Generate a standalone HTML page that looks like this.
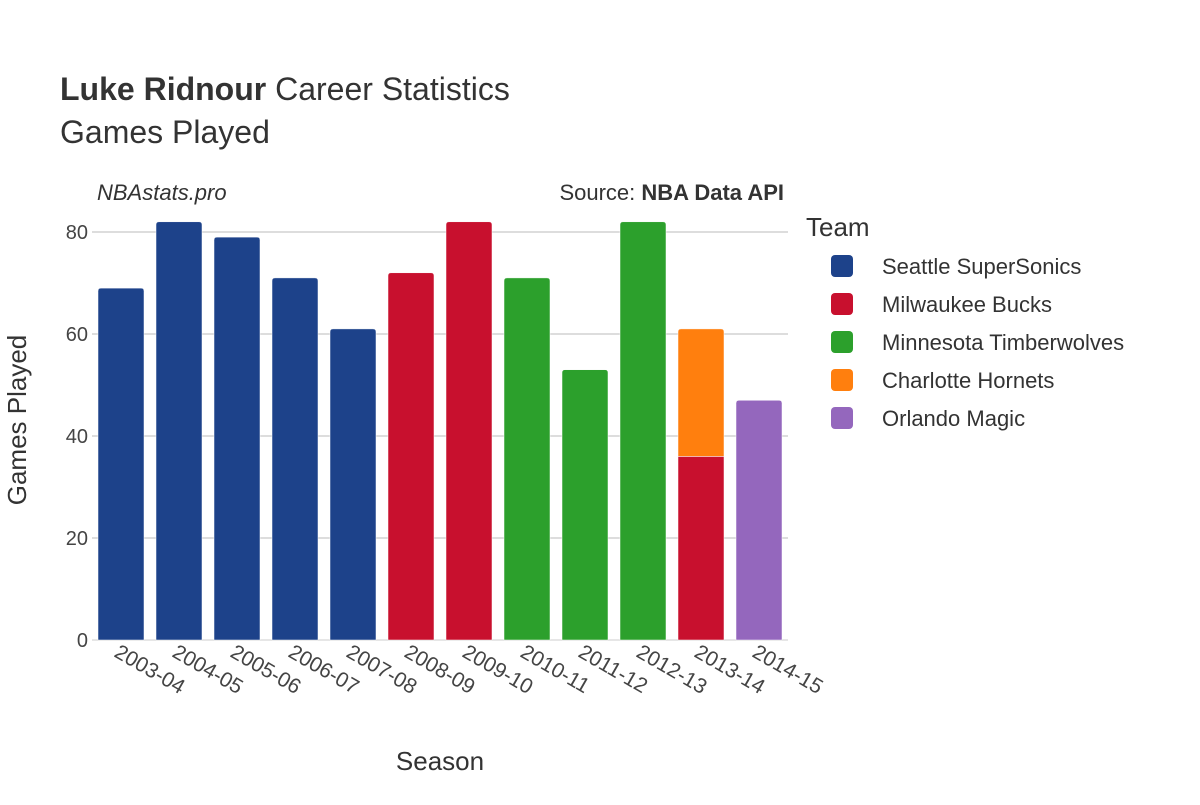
<!DOCTYPE html>
<html><head><meta charset="utf-8"><style>
body{margin:0;background:#fff;}
svg text{font-family:"Liberation Sans","DejaVu Sans",sans-serif;}
</style></head><body>
<svg width="1200" height="800" xmlns="http://www.w3.org/2000/svg" id="chart">
<rect width="1200" height="800" fill="#fff"/>
<text x="60" y="100" font-size="32" fill="#333"><tspan font-weight="bold">Luke Ridnour</tspan> Career Statistics</text>
<text x="60" y="143" font-size="32" fill="#333">Games Played</text>
<text x="97" y="200" font-size="22" fill="#333" font-style="italic">NBAstats.pro</text>
<text x="784" y="200" font-size="22" fill="#333" text-anchor="end">Source: <tspan font-weight="bold">NBA Data API</tspan></text>
<g id="grid"></g>
<g id="bars"></g>
<g id="yticks"></g>
<g id="xticks"></g>
<text x="440" y="770" font-size="26" fill="#333" text-anchor="middle">Season</text>
<text transform="translate(26,420) rotate(-90)" font-size="26" fill="#333" text-anchor="middle">Games Played</text>
<g id="legend">
<text x="806" y="236" font-size="26" fill="#333">Team</text>
</g>
</svg>
<script>
const seasons=["2003-04","2004-05","2005-06","2006-07","2007-08","2008-09","2009-10","2010-11","2011-12","2012-13","2013-14","2014-15"];
const teams=["Seattle SuperSonics","Milwaukee Bucks","Minnesota Timberwolves","Charlotte Hornets","Orlando Magic"];
const teamColors=["#1d428a","#c8102e","#2ca02c","#ff7f0e","#9467bd"];
const seattle=[69,82,79,71,61,0,0,0,0,0,0,0];
const milwaukee=[0,0,0,0,0,72,82,0,0,0,36,0];
const minnesota=[0,0,0,0,0,0,0,71,53,82,0,0];
const charlotte=[0,0,0,0,0,0,0,0,0,0,25,0];
const orlando=[0,0,0,0,0,0,0,0,0,0,0,47];
const series=[seattle,milwaukee,minnesota,charlotte,orlando];
const yTicks=[0,20,40,60,80];
const NS="http://www.w3.org/2000/svg";
const x0=92,x1=788,yBase=640,yTop=232,yMax=80;
const band=(x1-x0)/seasons.length;
const X=i=>x0+band*i+band/2;
const Y=v=>yBase-(v/yMax)*(yBase-yTop);
function mk(tag,attrs,parent){const e=document.createElementNS(NS,tag);for(const k in attrs)e.setAttribute(k,attrs[k]);parent.appendChild(e);return e;}
const grid=document.getElementById('grid'),yt=document.getElementById('yticks');
yTicks.forEach(t=>{
 const l=mk('line',{x1:x0,x2:x1,y1:Y(t),y2:Y(t),stroke:t===0?'#e6e6e6':'#bbb','stroke-width':t===0?2:1},grid);
 
 
 const tx=mk('text',{x:x0-4,y:Y(t)+7,'font-size':20,fill:'#444','text-anchor':'end'},yt);
 tx.textContent=t;
 
 
});
const bars=document.getElementById('bars');
const bw=46;
seasons.forEach((s,i)=>{
 let acc=0;
 const segs=[];
 series.forEach((arr,k)=>{if(arr[i]>0)segs.push([k,arr[i]]);});
 segs.forEach(([k,v],j)=>{
  const top=Y(acc+v),bot=Y(acc);acc+=v;
  const xl=X(i)-bw/2,r=(j===segs.length-1)?3:0;
  const d=`M${xl},${bot} L${xl},${top+r} Q${xl},${top} ${xl+r},${top} L${xl+bw-r},${top} Q${xl+bw},${top} ${xl+bw},${top+r} L${xl+bw},${bot} Z`;
  const p=mk('path',{d:d,fill:teamColors[k],stroke:'#fff','stroke-width':0.5},bars);
  
  
 });
 const xt=document.getElementById('xticks');
 const t=mk('text',{transform:`translate(${X(i)-8},${656}) rotate(30)`,'font-size':21,fill:'#444'},xt);
 t.textContent=s;
 
 
});
const lg=document.getElementById('legend');
teams.forEach((tm,k)=>{
 const y=266+k*38;
 const g=mk('g',{},lg);
 
 
 mk('rect',{x:831,y:y-11,width:22,height:22,rx:4,fill:teamColors[k]},g);
 const t=mk('text',{x:882,y:y+8,'font-size':22,fill:'#333'},g);
 t.textContent=tm;
});
</script>
</body></html>
